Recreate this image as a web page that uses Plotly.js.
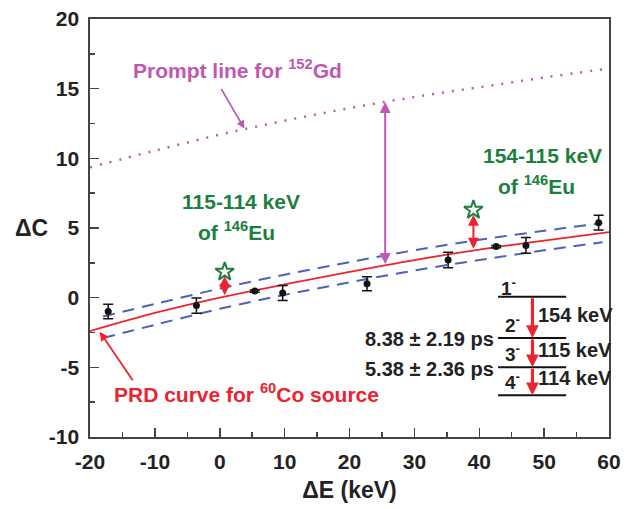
<!DOCTYPE html>
<html><head><meta charset="utf-8">
<script src="https://cdn.plot.ly/plotly-3.0.1.min.js"></script>
<style>html,body{margin:0;padding:0;background:#fff}</style>
</head><body><div id="chart" style="width:627px;height:509px"></div>
<script>
// measured data points (ΔE, ΔC) with errors
const pointsX = [-17.2, -3.6, 5.4, 9.7, 22.7, 35.2, 42.6, 47.2, 58.4];
const pointsY = [-0.99, -0.57, 0.47, 0.34, 1.0, 2.7, 3.67, 3.75, 5.38];
const pointsErr = [0.52, 0.55, 0.08, 0.54, 0.5, 0.56, 0.08, 0.56, 0.53];

// PRD curve for 60Co source
const prdX = [-20, -10, 0, 10, 20, 30, 40, 50, 60];
const prdY = [-2.4, -1.1, 0.0, 0.95, 1.85, 2.7, 3.45, 4.1, 4.7];

// error band (dashed)
const bandX = [-18, -10, 0, 10, 20, 30, 40, 50, 59];
const bandUpper = [-1.35, -0.45, 0.65, 1.65, 2.55, 3.4, 4.15, 4.8, 5.35];
const bandLower = [-2.9, -1.95, -0.8, 0.2, 1.1, 1.95, 2.7, 3.4, 3.98];

// prompt line for 152Gd
const promptX = [-20, -10, 0, 10, 20, 30, 40, 50, 60];
const promptY = [9.35, 10.55, 11.7, 12.7, 13.6, 14.4, 15.1, 15.8, 16.45];

// 146Eu transitions (stars) and the shift arrows from the PRD curve
const euX = [0.76, 39.1];
const euY = [1.86, 6.3];
const shiftFrom = [0.07, 3.41];
const shiftTo = [1.55, 5.95];

// time-difference arrow between PRD and prompt line
const gapX = 25.5;
const gapFrom = 2.3;
const gapTo = 14.05;

// tick labels
const xTickVals = [-20, -10, 0, 10, 20, 30, 40, 50, 60];
const xTickText = ['-20', '-10', '0', '10', '20', '30', '40', '50', '60'];
const yTickVals = [-10, -5, 0, 5, 10, 15, 20];
const yTickText = ['-10', '-5', '0', '5', '10', '15', '20'];

// level scheme
const levelLabels = ['1<sup>-</sup>', '2<sup>-</sup>', '3<sup>-</sup>', '4<sup>-</sup>'];
const levelY = [0.07, -2.9, -5.0, -7.0];
const gammaLabels = ['154 keV', '115 keV', '114 keV'];
const lifetimeLabels = ['8.38 ± 2.19 ps', '5.38 ± 2.36 ps'];

const PINK = '#c057b2', BLUE = '#4d62b6', RED = '#ea2430', GREEN = '#1d7f3d', INK = '#222';
const FONT = 'Liberation Sans, Arial, sans-serif';

const traces = [
  {x: promptX, y: promptY, mode: 'lines', line: {color: PINK, width: 2.5, dash: '2px,8px', shape: 'spline'}, hoverinfo: 'skip'},
  {x: bandX, y: bandUpper, mode: 'lines', line: {color: BLUE, width: 2, dash: '12px,8px', shape: 'spline'}, hoverinfo: 'skip'},
  {x: bandX, y: bandLower, mode: 'lines', line: {color: BLUE, width: 2, dash: '12px,8px', shape: 'spline'}, hoverinfo: 'skip'},
  {x: prdX, y: prdY, mode: 'lines', line: {color: RED, width: 1.8, shape: 'spline'}, hoverinfo: 'skip'},
  {x: pointsX, y: pointsY, mode: 'markers', marker: {color: '#111', size: 7},
   error_y: {type: 'data', array: pointsErr, visible: true, color: '#111', thickness: 1.5, width: 5}},
  {x: euX, y: euY, mode: 'markers', marker: {symbol: 'star-open', size: 14, color: GREEN, line: {width: 2, color: GREEN}}}
];

const ann = [];
const tfont = (c, s) => ({family: FONT, size: s, color: c, weight: 'bold'});
const L = 90, R = 18, T = 19, B = 72, W = 627, H = 509;
const pw = W - L - R, ph = H - T - B;
// helper: text placed by pixel centre
const pxText = (px, py, text, color, size, xanchor) => ann.push({
  x: (px - L) / pw, y: (H - B - py) / ph, xref: 'paper', yref: 'paper', text: text, showarrow: false,
  font: tfont(color, size), xanchor: xanchor || 'center', yanchor: 'middle'});

// shift arrows (double-headed)
for (let i = 0; i < euX.length; i++) {
  ann.push({x: euX[i], y: shiftTo[i], ax: euX[i], ay: shiftFrom[i], xref: 'x', yref: 'y', axref: 'x', ayref: 'y',
    text: '', showarrow: true, arrowhead: 2, startarrowhead: 2, arrowside: 'end+start', arrowsize: 1.1, arrowwidth: 2, arrowcolor: RED});
}
// prompt gap arrow
ann.push({x: gapX, y: gapTo, ax: gapX, ay: gapFrom, xref: 'x', yref: 'y', axref: 'x', ayref: 'y',
  text: '', showarrow: true, arrowhead: 2, startarrowhead: 2, arrowside: 'end+start', arrowsize: 1.1, arrowwidth: 2, arrowcolor: PINK});
// prompt label + arrow
ann.push({x: 3.8, y: 12.14, ax: -24, ay: -41, xref: 'x', yref: 'y', text: '', showarrow: true,
  arrowhead: 2, arrowsize: 1, arrowwidth: 1.6, arrowcolor: PINK});
pxText(237, 69, 'Prompt line for <sup>152</sup>Gd', PINK, 21);
// PRD label + arrow
ann.push({x: -18.5, y: -2.45, ax: 34, ay: 50, xref: 'x', yref: 'y', text: '', showarrow: true,
  arrowhead: 2, arrowsize: 1, arrowwidth: 1.8, arrowcolor: RED});
pxText(112, 393, 'PRD curve for <sup>60</sup>Co source', RED, 21, 'left');
// green labels
pxText(241, 201, '115-114 keV', GREEN, 21);
pxText(236, 231, 'of <sup>146</sup>Eu', GREEN, 21);
pxText(542, 155, '154-115 keV', GREEN, 21);
pxText(536, 185, 'of <sup>146</sup>Eu', GREEN, 21);
// y-axis title (horizontal)
pxText(31, 228, 'ΔC', INK, 23);

// level scheme
const shapes = [];
const lvlX0 = 42.9, lvlX1 = 53.4, gX = 48.2;
levelY.forEach((y, i) => {
  shapes.push({type: 'line', xref: 'x', yref: 'y', x0: lvlX0, x1: lvlX1, y0: y, y1: y, line: {color: '#111', width: 2}});
  ann.push({x: 43.1 + (i ? 0.6 : 0), y: y + (i ? 1.0 : 0.68), xref: 'x', yref: 'y', text: levelLabels[i], showarrow: false,
    font: tfont(INK, 19), xanchor: 'left', yanchor: 'middle'});
});
for (let i = 0; i < 3; i++) {
  ann.push({x: gX, y: levelY[i + 1], ax: gX, ay: levelY[i], xref: 'x', yref: 'y', axref: 'x', ayref: 'y',
    text: '', showarrow: true, arrowhead: 2, arrowsize: 0.8, arrowwidth: 3.2, arrowcolor: RED});
  ann.push({x: 48.7, y: (levelY[i] + levelY[i + 1]) / 2 + 0.2, xref: 'x', yref: 'y', text: gammaLabels[i], showarrow: false,
    font: tfont(INK, 20), xanchor: 'left', yanchor: 'middle'});
}
lifetimeLabels.forEach((t, i) => {
  ann.push({x: 42.6, y: levelY[i + 1] - 0.1, xref: 'x', yref: 'y', text: t, showarrow: false,
    font: tfont(INK, 20), xanchor: 'right', yanchor: 'middle'});
});

const axisCommon = {showgrid: false, zeroline: false, showline: true, linecolor: '#444', linewidth: 1.6, mirror: true,
  ticks: 'inside', ticklen: 9, tickwidth: 1.5, tickcolor: '#444', tickfont: tfont(INK, 21), ticklabelstandoff: 5};

const layout = {
  width: W, height: H, margin: {l: L, r: R, t: T, b: B},
  paper_bgcolor: '#fff', plot_bgcolor: '#fff', showlegend: false,
  font: {family: FONT, color: INK},
  xaxis: Object.assign({}, axisCommon, {range: [-20, 60], tickmode: 'array', tickvals: xTickVals, ticktext: xTickText,
    minor: {dtick: 5, tick0: -20, ticks: 'inside', ticklen: 5, tickwidth: 1.5, tickcolor: '#444'},
    title: {text: 'ΔE (keV)', font: tfont(INK, 23), standoff: 10}}),
  yaxis: Object.assign({}, axisCommon, {range: [-10, 20], tickmode: 'array', tickvals: yTickVals, ticktext: yTickText,
    minor: {dtick: 2.5, tick0: -10, ticks: 'inside', ticklen: 5, tickwidth: 1.5, tickcolor: '#444'}}),
  shapes: shapes, annotations: ann
};

Plotly.newPlot('chart', traces, layout, {displayModeBar: false, staticPlot: true});
</script></body></html>
